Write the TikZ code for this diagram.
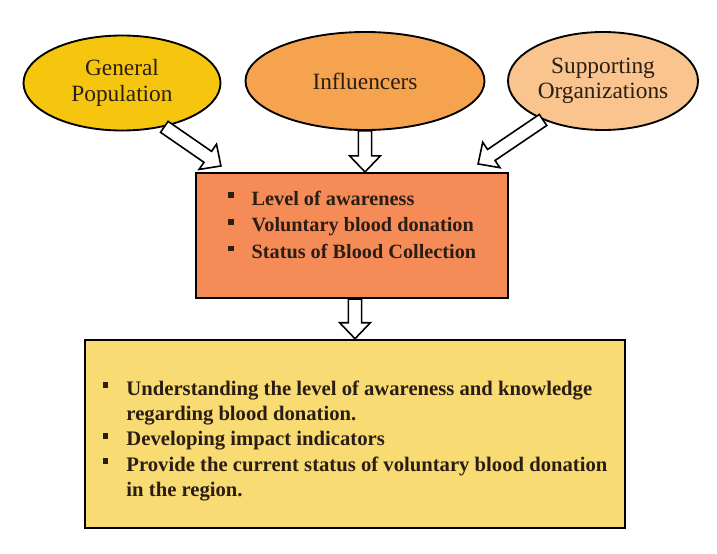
\documentclass[tikz,border=0pt]{standalone}
\usepackage{fontspec}
\setmainfont{Liberation Serif}
\usetikzlibrary{calc, positioning, shapes.geometric}
\definecolor{GoldFill}{HTML}{F6C60F}
\definecolor{OrangeFill}{HTML}{F5A34E}
\definecolor{PeachFill}{HTML}{FAC48E}
\definecolor{CoralFill}{HTML}{F58C58}
\definecolor{SandFill}{HTML}{F9DB74}
\definecolor{InkBrown}{HTML}{2A1E14}

\newcommand{\sqbullet}{\rule[5.2pt]{4.4pt}{4.4pt}}

\tikzset{
  group/.style={ellipse, draw=black, line width=1.4pt, inner sep=0pt,
    align=center, text=InkBrown, font=\fontsize{17.5}{19}\selectfont},
  panel/.style={rectangle, draw=black, inner sep=0pt, text=InkBrown,
    font=\fontsize{15.2}{20}\bfseries\selectfont},
  hollow/.style={draw=black, line width=1.2pt, fill=white,
    to path={let \p1=(\tikztostart), \p2=(\tikztotarget),
      \p3=($(\p2)!12pt!(\p1)$) in
      ($(\p1)!5pt!90:(\p2)$) -- ($(\p3)!5pt!-90:(\p1)$)
      -- ($(\p3)!11.5pt!-90:(\p1)$) -- (\p2)
      -- ($(\p3)!11.5pt!90:(\p1)$) -- ($(\p3)!5pt!90:(\p1)$)
      -- ($(\p1)!5pt!-90:(\p2)$) -- cycle}}
}

\begin{document}
\begin{tikzpicture}[x=0.75pt, y=-0.75pt]
  \useasboundingbox (0,0) rectangle (717,553);

  % Stakeholder groups
  \node[group, fill=GoldFill, minimum width=147.75pt, minimum height=71.25pt]
    (gp) at (122,83) {General\\Population};
  \node[group, fill=OrangeFill, minimum width=179.25pt, minimum height=73.5pt]
    (infl) at (365,81) {Influencers};
  \node[group, fill=PeachFill, minimum width=142.5pt, minimum height=73.5pt]
    (sup) at (603,81) {Supporting\\Organizations};

  % Study objectives
  \node[panel, fill=CoralFill, line width=1.6pt,
        minimum width=234pt, minimum height=93.75pt] (obj) at (352,235.5)
    {\vbox to 93.75pt{\kern10pt\hbox{\begin{tabular}{@{}l@{\hspace{13.5pt}}l@{}}
      \sqbullet & Level of awareness\\
      \sqbullet & Voluntary blood donation\\
      \sqbullet & Status of Blood Collection
    \end{tabular}}\vfil}};

  % Expected outcomes
  \node[panel, fill=SandFill, line width=1.9pt,
        minimum width=405pt, minimum height=141pt,
        font=\fontsize{15.5}{19}\bfseries\selectfont] (lower) at (355,434)
    {\vbox to 141pt{\kern28pt\hbox{\begin{tabular}{@{}l@{\hspace{13.5pt}}l@{}}
      \sqbullet & Understanding the level of awareness and knowledge\\
                & regarding blood donation.\\
      \sqbullet & Developing impact indicators\\
      \sqbullet & Provide the current status of voluntary blood donation\\
                & in the region.
    \end{tabular}}\vfil}};

  % Arrows
  \draw[hollow] (gp.-46) to ([shift={(26,-6)}]obj.north west);
  \draw[hollow] (infl.south) to (infl.south |- obj.north);
  \draw[hollow] (sup.-147) to ([shift={(-31,-8)}]obj.north east);
  \draw[hollow] (lower.north |- obj.south) to (lower.north);
\end{tikzpicture}
\end{document}
